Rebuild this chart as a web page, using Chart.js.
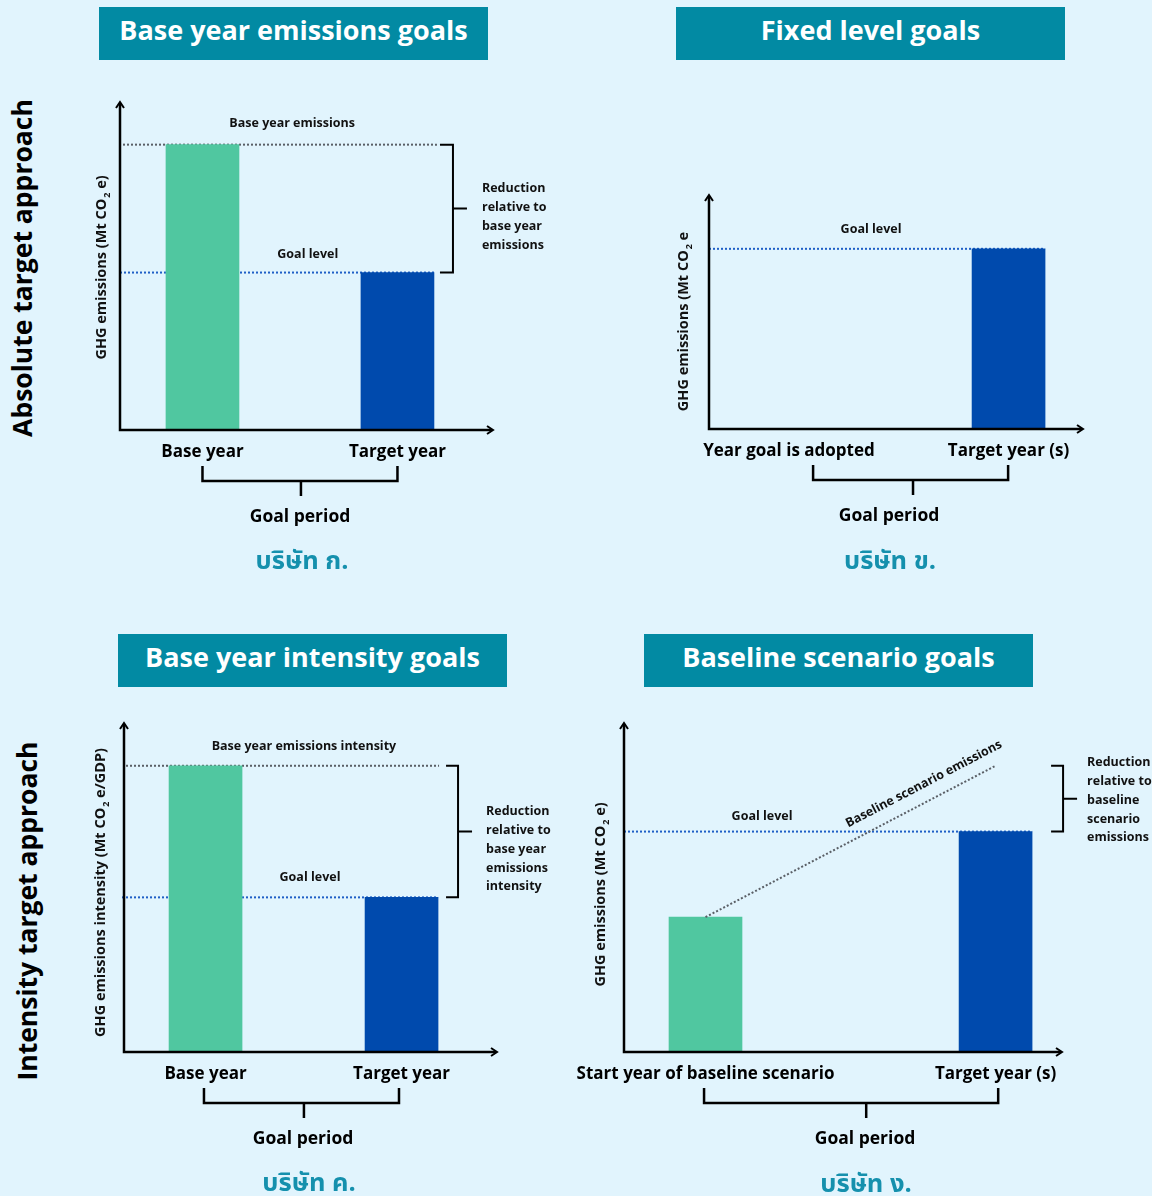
<!DOCTYPE html>
<html lang="en">
<head>
<meta charset="utf-8">
<title>GHG mitigation goal types</title>
<script src="https://cdn.jsdelivr.net/npm/chart.js@4.4.1/dist/chart.umd.min.js"></script>
<style>
  html, body { margin: 0; padding: 0; }
  body {
    width: 1152px; height: 1196px; position: relative; overflow: hidden;
    background: #e1f4fd; font-family: "Open Sans", Lato, sans-serif;
  }
  canvas.panel { position: absolute; left: 0; top: 0; }
  .title {
    position: absolute; width: 389px; height: 53px; box-sizing: border-box; padding-bottom: 8px;
    background: #028aa3; color: #fff;
    font-weight: 700; font-size: 27px; display: flex; align-items: center; justify-content: center;
    white-space: nowrap;
  }
  .side {
    position: absolute; font-weight: 700; font-size: 26.5px; color: #000; white-space: nowrap;
    transform: translate(-50%, -50%) rotate(-90deg);
  }
  .period {
    position: absolute; font-weight: 700; font-size: 17.5px; color: #000; white-space: nowrap;
    transform: translate(-50%, -50%);
  }
  .company {
    position: absolute; font-weight: 700; font-size: 25.5px; color: #1590ad; white-space: nowrap;
    transform: translate(-50%, -50%);
    font-family: "Noto Sans Thai", "Noto Sans Thai UI", Loma, Garuda, "Noto Sans", sans-serif;
  }
</style>
</head>
<body>

<div class="side" style="left:22px; top:268px;">Absolute target approach</div>
<div class="side" style="left:27px; top:911px;">Intensity target approach</div>

<div class="title" style="left:99px; top:7px;">Base year emissions goals</div>
<div class="title" style="left:676px; top:7px;">Fixed level goals</div>
<div class="title" style="left:118px; top:634px;">Base year intensity goals</div>
<div class="title" style="left:644px; top:634px;">Baseline scenario goals</div>

<canvas class="panel" id="chartA" width="1152" height="1196"></canvas>
<canvas class="panel" id="chartB" width="1152" height="1196"></canvas>
<canvas class="panel" id="chartC" width="1152" height="1196"></canvas>
<canvas class="panel" id="chartD" width="1152" height="1196"></canvas>

<div class="period" style="left:300px; top:515px;">Goal period</div>
<div class="period" style="left:889px; top:514px;">Goal period</div>
<div class="period" style="left:303px; top:1137px;">Goal period</div>
<div class="period" style="left:865px; top:1137px;">Goal period</div>

<div class="company" style="left:302px; top:561px;">บริษัท ก.</div>
<div class="company" style="left:890px; top:561px;">บริษัท ข.</div>
<div class="company" style="left:309px; top:1183px;">บริษัท ค.</div>
<div class="company" style="left:866px; top:1184px;">บริษัท ง.</div>

<script>
// ---------- data (illustrative units, axis runs 0..10) ----------
const categoriesA = ['Base year', 'Target year'];
const emissionsA = [8.7, 4.8];            // base-year emissions, goal level

const categoriesB = ['Year goal is adopted', 'Target year (s)'];
const emissionsB = [null, 7.7];           // only the fixed target level is set

const categoriesC = ['Base year', 'Target year'];
const intensityC = [8.7, 4.7];            // base-year intensity, goal level

const categoriesD = ['Start year of baseline scenario', 'Target year (s)'];
const emissionsD = [4.1, 6.7];            // start-year emissions, goal level
const baselineD = [4.1, 8.7];             // baseline scenario projection

// ---------- styling ----------
const GREEN = '#50c7a0';
const BLUE = '#004aad';
const GRAY_DOT = '#5a5f66';
const BLUE_DOT = '#1f5fc6';
const BAR_W = 73;
const X_LABEL_BAND = 42;
const PAGE_W = 1152, PAGE_H = 1196;
const FONT = '"Open Sans", Lato, sans-serif';
const ANNOT_FONT = 'bold 12.5px ' + FONT;
const AXIS_FONT = { family: FONT, weight: 'bold', size: 17 };

const panels = [
  {
    key: 'A', canvas: 'chartA', cats: categoriesA, values: emissionsA, colors: [GREEN, BLUE],
    area: { left: 120, top: 102, right: 493, bottom: 430 }, xRange: [-0.423, 1.49],
    levels: [
      { value: emissionsA[0], color: GRAY_DOT, startPad: 3, endPad: 3 },
      { value: emissionsA[1], color: BLUE_DOT, startPad: 0, endPad: 0 }
    ],
    labels: [
      { text: 'Base year emissions', x: 0.46, value: emissionsA[0], dy: 21 },
      { text: 'Goal level', x: 0.54, value: emissionsA[1], dy: 18 }
    ],
    bracket: { from: emissionsA[0], to: emissionsA[1], gap: 19, arm: 13, textDx: 29, textDy: -20,
               text: ['Reduction', 'relative to', 'base year', 'emissions'] },
    yTitle: { parts: ['GHG emissions (Mt CO', '2', ' e)'], x: 102, y: 268 },
    period: { left: 0, right: 1, mid: 0.505 }
  },
  {
    key: 'B', canvas: 'chartB', cats: categoriesB, values: emissionsB, colors: [BLUE, BLUE],
    area: { left: 709, top: 195, right: 1083, bottom: 429 }, xRange: [-0.364, 1.339],
    levels: [
      { value: emissionsB[1], color: BLUE_DOT, startPad: 0, endPad: 0 }
    ],
    labels: [
      { text: 'Goal level', x: 0.374, value: emissionsB[1], dy: 19 }
    ],
    bracket: null,
    yTitle: { parts: ['GHG emissions (Mt CO', '2', ' e'], x: 684, y: 322 },
    period: { left: 0.11, right: 0.998, mid: 0.565 }
  },
  {
    key: 'C', canvas: 'chartC', cats: categoriesC, values: intensityC, colors: [GREEN, BLUE],
    area: { left: 124, top: 723, right: 497, bottom: 1052 }, xRange: [-0.416, 1.487],
    levels: [
      { value: intensityC[0], color: GRAY_DOT, startPad: 2, endPad: 1 },
      { value: intensityC[1], color: BLUE_DOT, startPad: -2, endPad: 0 }
    ],
    labels: [
      { text: 'Base year emissions intensity', x: 0.502, value: intensityC[0], dy: 19 },
      { text: 'Goal level', x: 0.533, value: intensityC[1], dy: 20 }
    ],
    bracket: { from: intensityC[0], to: intensityC[1], gap: 20, arm: 12, textDx: 28, textDy: -20,
               text: ['Reduction', 'relative to', 'base year', 'emissions', 'intensity'] },
    yTitle: { parts: ['GHG emissions intensity (Mt CO', '2', ' e/GDP)'], x: 101, y: 893 },
    period: { left: -0.008, right: 0.987, mid: 0.502 }
  },
  {
    key: 'D', canvas: 'chartD', cats: categoriesD, values: emissionsD, colors: [GREEN, BLUE],
    line: baselineD,
    area: { left: 624, top: 723, right: 1062, bottom: 1052 }, xRange: [-0.281, 1.229],
    levels: [
      { value: emissionsD[1], color: BLUE_DOT, startPad: 0, endPad: 0 }
    ],
    labels: [
      { text: 'Goal level', x: 0.195, value: emissionsD[1], dy: 15 }
    ],
    lineLabel: { text: 'Baseline scenario emissions', t: 0.78, offset: 17 },
    bracket: { from: baselineD[1], to: emissionsD[1], gap: 31, arm: 12, textDx: 24, textDy: -36,
               text: ['Reduction', 'relative to', 'baseline', 'scenario', 'emissions'] },
    yTitle: { parts: ['GHG emissions (Mt CO', '2', ' e)'], x: 601, y: 895 },
    period: { left: -0.005, right: 1.009, mid: 0.554 }
  }
];

// Rotated axis title with a subscript part in the middle
function drawRotatedTitle(ctx, parts, cx, cy, size) {
  const main = `bold ${size}px ${FONT}`;
  const sub = `bold ${Math.round(size * 0.6)}px ${FONT}`;
  ctx.save();
  ctx.translate(cx, cy);
  ctx.rotate(-Math.PI / 2);
  ctx.font = main;
  const w0 = ctx.measureText(parts[0]).width;
  const w2 = ctx.measureText(parts[2]).width;
  ctx.font = sub;
  const w1 = ctx.measureText(parts[1]).width;
  let xx = -(w0 + w1 + w2) / 2;
  ctx.fillStyle = '#111';
  ctx.textAlign = 'left';
  ctx.textBaseline = 'middle';
  ctx.font = main; ctx.fillText(parts[0], xx, 0); xx += w0;
  ctx.font = sub; ctx.fillText(parts[1], xx + 1, size * 0.38); xx += w1 + 1;
  ctx.font = main; ctx.fillText(parts[2], xx, 0);
  ctx.restore();
}

function makeDiagramPlugin(cfg) {
  return {
    id: 'goalDiagram' + cfg.key,
    beforeDatasetsDraw(chart) {
      const { ctx, chartArea: a, scales: { x, y } } = chart;
      const barRight = x.getPixelForValue(1) + BAR_W / 2;
      ctx.save();
      ctx.lineWidth = 2;
      ctx.setLineDash([2, 2]);
      cfg.levels.forEach(l => {
        const py = y.getPixelForValue(l.value);
        ctx.strokeStyle = l.color;
        ctx.beginPath();
        ctx.moveTo(a.left + l.startPad, py);
        ctx.lineTo(barRight + l.endPad, py);
        ctx.stroke();
      });
      ctx.restore();
    },
    afterDatasetsDraw(chart) {
      const { ctx, chartArea: a, scales: { x, y } } = chart;
      const barRight = x.getPixelForValue(1) + BAR_W / 2;
      ctx.save();
      ctx.setLineDash([]);
      ctx.strokeStyle = '#000';
      ctx.fillStyle = '#111';
      ctx.lineCap = 'butt';

      // axes with arrow heads
      ctx.lineWidth = 2.5;
      ctx.beginPath();
      ctx.moveTo(a.left, a.top + 1);
      ctx.lineTo(a.left, a.bottom);
      ctx.lineTo(a.right - 1, a.bottom);
      ctx.stroke();
      ctx.lineWidth = 2;
      ctx.beginPath();
      ctx.moveTo(a.left - 4, a.top + 6); ctx.lineTo(a.left, a.top); ctx.lineTo(a.left + 4, a.top + 6);
      ctx.moveTo(a.right - 6, a.bottom - 4); ctx.lineTo(a.right, a.bottom); ctx.lineTo(a.right - 6, a.bottom + 4);
      ctx.stroke();

      // level labels
      ctx.font = ANNOT_FONT;
      ctx.textAlign = 'center';
      ctx.textBaseline = 'middle';
      cfg.labels.forEach(l => {
        ctx.fillText(l.text, x.getPixelForValue(l.x), y.getPixelForValue(l.value) - l.dy);
      });

      // label running along the baseline projection
      if (cfg.lineLabel) {
        const p0 = { x: x.getPixelForValue(0), y: y.getPixelForValue(cfg.line[0]) };
        const p1 = { x: x.getPixelForValue(1), y: y.getPixelForValue(cfg.line[1]) };
        const ang = Math.atan2(p1.y - p0.y, p1.x - p0.x);
        const t = cfg.lineLabel.t, off = cfg.lineLabel.offset;
        const cx = p0.x + t * (p1.x - p0.x) + Math.sin(ang) * off;
        const cy = p0.y + t * (p1.y - p0.y) - Math.cos(ang) * off;
        ctx.save();
        ctx.translate(cx, cy);
        ctx.rotate(ang);
        ctx.fillText(cfg.lineLabel.text, 0, 0);
        ctx.restore();
      }

      // reduction bracket
      if (cfg.bracket) {
        const b = cfg.bracket;
        const bx = barRight + b.gap;
        const yTop = y.getPixelForValue(b.from);
        const yBot = y.getPixelForValue(b.to);
        const ym = (yTop + yBot) / 2;
        ctx.lineWidth = 2;
        ctx.beginPath();
        ctx.moveTo(bx - b.arm, yTop); ctx.lineTo(bx, yTop); ctx.lineTo(bx, yBot); ctx.lineTo(bx - b.arm, yBot);
        ctx.moveTo(bx, ym); ctx.lineTo(bx + 14, ym);
        ctx.stroke();
        ctx.textAlign = 'left';
        b.text.forEach((line, i) => ctx.fillText(line, bx + b.textDx, ym + b.textDy + i * 18.8));
      }

      // goal period bracket under the category labels
      const p = cfg.period;
      const pl = x.getPixelForValue(p.left), pr = x.getPixelForValue(p.right), pm = x.getPixelForValue(p.mid);
      const t0 = a.bottom + 36, t1 = a.bottom + 51, t2 = a.bottom + 66;
      ctx.lineWidth = 2.5;
      ctx.beginPath();
      ctx.moveTo(pl, t0); ctx.lineTo(pl, t1); ctx.lineTo(pr, t1); ctx.lineTo(pr, t0);
      ctx.moveTo(pm, t1); ctx.lineTo(pm, t2);
      ctx.stroke();

      // y axis title
      drawRotatedTitle(ctx, cfg.yTitle.parts, cfg.yTitle.x, cfg.yTitle.y, 14.5);
      ctx.restore();
    }
  };
}

function buildChart(cfg) {
  const a = cfg.area;
  const datasets = [{
    type: 'bar',
    data: cfg.values.map((v, i) => ({ x: i, y: v })),
    backgroundColor: cfg.colors,
    barThickness: BAR_W,
    order: 2
  }];
  if (cfg.line) {
    datasets.push({
      type: 'line',
      data: cfg.line.map((v, i) => ({ x: i, y: v })),
      borderColor: GRAY_DOT,
      borderWidth: 2,
      borderDash: [2, 2],
      pointRadius: 0,
      fill: false,
      order: 1
    });
  }
  return new Chart(document.getElementById(cfg.canvas), {
    type: 'bar',
    data: { datasets },
    options: {
      responsive: false,
      animation: false,
      events: [],
      layout: {
        padding: { left: a.left, top: a.top, right: PAGE_W - a.right, bottom: PAGE_H - a.bottom - X_LABEL_BAND }
      },
      plugins: { legend: { display: false }, tooltip: { enabled: false } },
      scales: {
        x: {
          type: 'linear',
          offset: false,
          min: cfg.xRange[0],
          max: cfg.xRange[1],
          grid: { display: false, drawTicks: false },
          border: { display: false },
          afterBuildTicks: s => { s.ticks = cfg.cats.map((_, i) => ({ value: i })); },
          afterFit: s => { s.height = X_LABEL_BAND; },
          ticks: {
            callback: v => cfg.cats[v],
            autoSkip: false, maxRotation: 0, minRotation: 0, padding: 12,
            color: '#000', font: AXIS_FONT
          }
        },
        y: { display: false, min: 0, max: 10 }
      }
    },
    plugins: [makeDiagramPlugin(cfg)]
  });
}

panels.forEach(buildChart);
</script>
</body>
</html>
